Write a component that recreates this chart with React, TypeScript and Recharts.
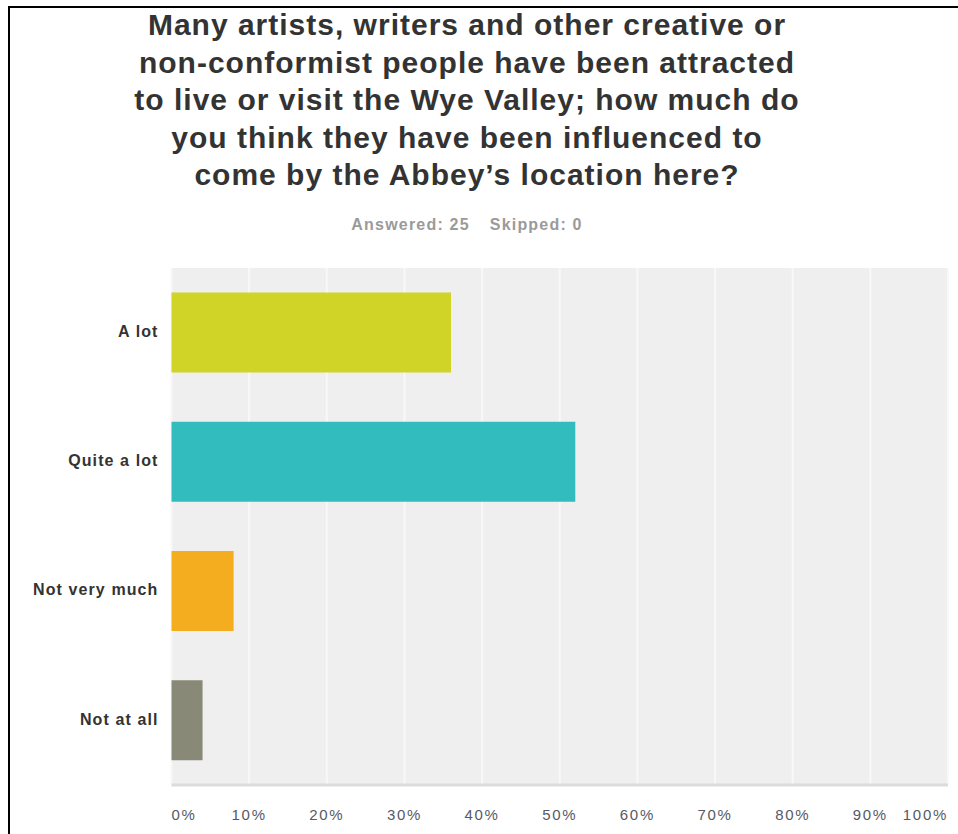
import React from "react";
import { BarChart, Bar, XAxis, YAxis, CartesianGrid, Cell } from "recharts";

const titleLines = [
  "Many artists, writers and other creative or",
  "non-conformist people have been attracted",
  "to live or visit the Wye Valley; how much do",
  "you think they have been influenced to",
  "come by the Abbey\u2019s location here?",
];
const subtitle = ["Answered: 25", "Skipped: 0"];
const categories = ["A lot", "Quite a lot", "Not very much", "Not at all"];
const percentages = [36, 52, 8, 4];
const barColors = ["#cfd427", "#33bcbe", "#f5ad20", "#888a77"];
const xTicks = [0, 10, 20, 30, 40, 50, 60, 70, 80, 90, 100];

const data = categories.map((c, i) => ({ name: c, value: percentages[i] }));

const XTick = (props: any) => {
  const { x, y, payload, index } = props;
  let anchor: "start" | "middle" | "end" = "middle";
  if (index === 0) anchor = "start";
  if (payload.value === 100) anchor = "end";
  return (
    <text
      x={x}
      y={y}
      dy={0}
      textAnchor={anchor}
      fontFamily="'Liberation Sans', Arial, sans-serif"
      fontSize={15}
      letterSpacing={1.7}
      fill="#555a66"
      dominantBaseline="middle"
    >
      {payload.value + "%"}
    </text>
  );
};

const YTick = (props: any) => {
  const { x, y, payload } = props;
  return (
    <text
      x={x}
      y={y}
      textAnchor="end"
      fontFamily="'Liberation Sans', Arial, sans-serif"
      fontWeight="bold"
      fontSize={16}
      letterSpacing={1.1}
      fill="#333"
      dominantBaseline="middle"
    >
      {payload.value}
    </text>
  );
};

export default function App() {
  return (
    <div
      style={{
        position: "absolute",
        left: 0,
        top: 0,
        width: 958,
        height: 834,
        background: "#fff",
        overflow: "hidden",
      }}
    >
      <div
        style={{
          position: "absolute",
          left: 8,
          top: 6,
          width: 960,
          height: 840,
          borderTop: "2px solid #000",
          borderLeft: "2px solid #000",
          boxSizing: "border-box",
        }}
      />
      <div style={{ position: "absolute", left: 0, top: 0 }}>
        <BarChart
          width={958}
          height={834}
          data={data}
          layout="vertical"
          margin={{ top: 268, right: 10, bottom: 19, left: 0 }}
          barCategoryGap="19%"
        >
          <CartesianGrid
            horizontal={false}
            vertical={true}
            stroke="#f8f8f8"
            strokeWidth={2}
            fill="#efefef"
          />
          <XAxis
            type="number"
            domain={[0, 100]}
            ticks={xTicks}
            interval={0}
            height={30}
            axisLine={{ stroke: "#dcdcdc", strokeWidth: 3 }}
            tickLine={false}
            tickSize={0}
            tickMargin={31}
            tick={<XTick />}
          />
          <YAxis
            type="category"
            dataKey="name"
            width={171.5}
            axisLine={false}
            tickLine={false}
            tickSize={0}
            tickMargin={13}
            tick={<YTick />}
          />
          <Bar dataKey="value" isAnimationActive={false}>
            {data.map((d, i) => (
              <Cell key={d.name} fill={barColors[i]} />
            ))}
          </Bar>
        </BarChart>
      </div>
      <div
        style={{
          position: "absolute",
          left: 0,
          top: 6,
          width: 934,
          textAlign: "center",
          fontFamily: "'Liberation Sans', Arial, sans-serif",
          fontWeight: "bold",
          fontSize: 30,
          letterSpacing: 1,
          lineHeight: "37.5px",
          color: "#333",
        }}
      >
        {titleLines.map((l) => (
          <div key={l}>{l}</div>
        ))}
      </div>
      <div
        style={{
          position: "absolute",
          left: 0,
          top: 215,
          width: 934,
          textAlign: "center",
          fontFamily: "'Liberation Sans', Arial, sans-serif",
          fontWeight: "bold",
          fontSize: 16,
          letterSpacing: 1.2,
          lineHeight: "20px",
          color: "#9a9a9a",
        }}
      >
        <span>{subtitle[0]}</span>
        <span style={{ marginLeft: 20 }}>{subtitle[1]}</span>
      </div>
    </div>
  );
}
